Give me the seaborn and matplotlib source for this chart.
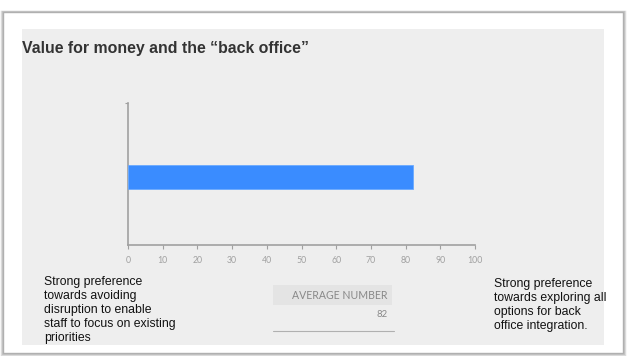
import matplotlib
matplotlib.use("Agg")
import matplotlib.pyplot as plt
from matplotlib.patches import Rectangle
import seaborn as sns
import pandas as pd

# ---- data ----
categories = ["Average"]
values = [82]
x_ticks = [0, 10, 20, 30, 40, 50, 60, 70, 80, 90, 100]
title = "Value for money and the \u201cback office\u201d"
left_note = ("Strong preference\ntowards avoiding\ndisruption to enable\n"
             "staff to focus on existing\npriorities")
right_note = ("Strong preference\ntowards exploring all\noptions for back\n"
              "office integration.")
table_header = "AVERAGE NUMBER"
table_value = "82"

sns.set_theme(style="white")
plt.rcParams['font.family'] = ['Liberation Sans', 'DejaVu Sans']

W, H = 629, 356
fig = plt.figure(figsize=(W / 100, H / 100), dpi=100)
fig.patch.set_facecolor("white")

def px(x, y, w, h):
    # convert pixel box (top-left origin) to figure fraction
    return (x / W, 1 - (y + h) / H, w / W, h / H)

# card shadow / border
for off, col in [(2.0, "#dcdcdc"), (1.0, "#c4c4c4")]:
    r = Rectangle(px(3 - off / 2, 12, 620 + off, 341 + off)[:2],
                  (620 + off) / W, (341 + off) / H, transform=fig.transFigure,
                  facecolor="none", edgecolor=col, lw=off + 0.5, zorder=0)
    fig.patches.append(r)
card = Rectangle(px(3, 12, 620, 341)[:2], 620 / W, 341 / H,
                 transform=fig.transFigure, facecolor="white",
                 edgecolor="#b0b0b0", lw=1.0, zorder=0)
fig.patches.append(card)
# gray panel
panel = Rectangle(px(22, 29, 582, 316)[:2], 582 / W, 316 / H,
                  transform=fig.transFigure, facecolor="#eeeeee",
                  edgecolor="none", zorder=0)
fig.patches.append(panel)

# main axes
ax = fig.add_axes(px(128, 103, 347, 142))
ax.set_zorder(3)
ax.set_facecolor("none")
df = pd.DataFrame({"category": categories, "value": values})
sns.barplot(data=df, x="value", y="category", orient="h", width=0.166,
            color="#3a8cff", saturation=1, ax=ax, zorder=3,
            edgecolor="#6aaaff", linewidth=0.6)
ax.set_xlim(0, 100)
ax.set_ylim(0.48, -0.52)
ax.set_xticks(x_ticks)
ax.set_xticklabels([str(t) for t in x_ticks], fontfamily="Lato",
                   fontsize=6.3, color="#a0a0a0")
ax.set_yticks([-0.52])
ax.set_yticklabels([""])
ax.set_xlabel("")
ax.set_ylabel("")
for s in ["top", "right"]:
    ax.spines[s].set_visible(False)
for s in ["left", "bottom"]:
    ax.spines[s].set_color("#a0a0a0")
    ax.spines[s].set_linewidth(1.2)
ax.tick_params(axis="x", length=3, width=0.8, color="#a0a0a0", pad=5,
               bottom=True)
ax.tick_params(axis="y", length=2, width=0.8, color="#a0a0a0", left=True)

# title
fig.text(22 / W, 1 - 48 / H, title, fontsize=11.4, fontweight="bold",
         color="#333333", ha="left", va="center")

# notes
fig.text(44 / W, 1 - 275.5 / H, left_note, fontsize=8.8, color="#111111",
         ha="left", va="top", linespacing=1.24)
fig.text(494 / W, 1 - 277.5 / H, right_note, fontsize=8.8, color="#111111",
         ha="left", va="top", linespacing=1.24)

# small table
hdr = Rectangle(px(273, 285, 119, 20)[:2], 119 / W, 20 / H,
                transform=fig.transFigure, facecolor="#e4e4e4",
                edgecolor="none", zorder=1)
fig.patches.append(hdr)
fig.text(388 / W, 1 - 295.5 / H, table_header, fontfamily="Lato",
         fontsize=7.6, color="#888888", ha="right", va="center")
fig.text(388 / W, 1 - 314.5 / H, table_value, fontfamily="Lato",
         fontsize=6.8, color="#888888", ha="right", va="center")
fig.add_artist(plt.Line2D([273 / W, 394 / W], [1 - 331 / H, 1 - 331 / H],
                          transform=fig.transFigure, color="#b0b0b0", lw=0.8))

fig.savefig("out.png", dpi=100, facecolor="white")
